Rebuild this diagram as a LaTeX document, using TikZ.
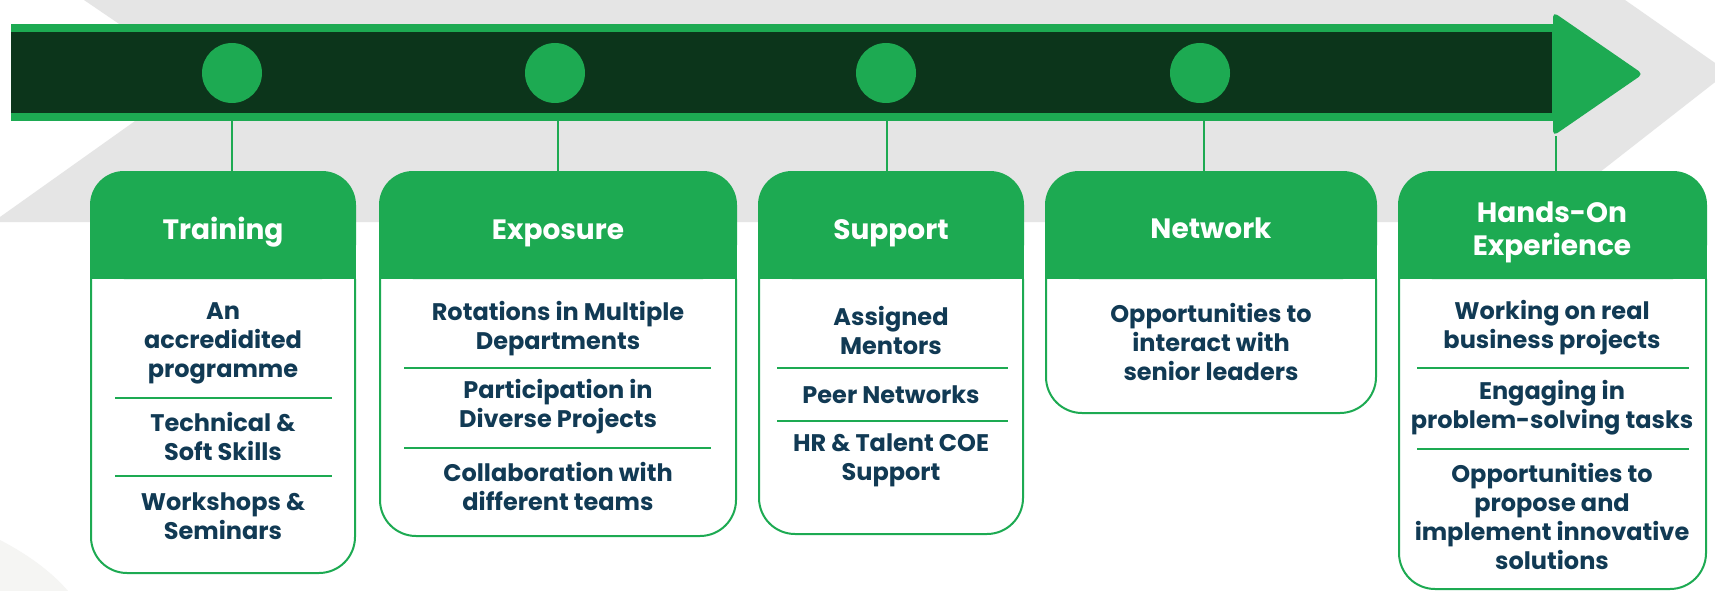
\documentclass[tikz,border=0pt]{standalone}
\usepackage{fontspec}
\setmainfont{Poppins}
\definecolor{gr}{RGB}{29,170,82}
\definecolor{dk}{RGB}{12,53,27}
\definecolor{nv}{RGB}{17,58,84}
\definecolor{lg}{RGB}{229,229,229}
\definecolor{fg}{RGB}{245,245,243}
\begin{document}
\begin{tikzpicture}[x=1pt,y=-1pt,
  item/.style={font=\fontsize{24}{29}\selectfont\bfseries, text=nv, align=center, inner sep=0pt},
  head/.style={font=\fontsize{28}{33}\selectfont\bfseries, text=white, align=center, inner sep=0pt},
  dot/.style={circle, fill=gr, minimum size=60pt, inner sep=0pt},
  conn/.style={gr, line width=2pt},
  rule/.style={gr, line width=2.5pt},
  frame/.style={gr, line width=2pt, rounded corners=36pt}]
\useasboundingbox (0,0) rectangle (1715,591);
\fill[white] (0,0) rectangle (1715,591);
% grey chevron
\fill[lg] (84,0) -- (1625,0) -- (1728,72) -- (1536,222) -- (-7,222) -- (197,77) -- cycle;
\fill[fg] (0,540) .. controls (25,553) and (50,570) .. (68,591) -- (0,591) -- cycle;
% connector anchors
\coordinate (b1) at (232,121); \coordinate (t1) at (232,171);
\coordinate (b2) at (558,121); \coordinate (t2) at (558,171);
\coordinate (b3) at (887,121); \coordinate (t3) at (887,171);
\coordinate (b4) at (1204,121); \coordinate (t4) at (1204,171);
\coordinate (b5) at (1556,136); \coordinate (t5) at (1556,171);
\draw[conn] (b1) -- (t1); \draw[conn] (b2) -- (t2); \draw[conn] (b3) -- (t3);
\draw[conn] (b4) -- (t4); \draw[conn] (b5) -- (t5);
% arrow band
\fill[gr] (11,24) rectangle (1556,121);
\fill[dk] (11,32) rectangle (1552,113);
\fill[gr, rounded corners=5pt] (1553,12) -- (1643,74) -- (1553,136) -- cycle;
\node[dot] (c1) at (232,73) {};
\node[dot] (c2) at (555,73) {};
\node[dot] (c3) at (886,73) {};
\node[dot] (c4) at (1200,73) {};
% boxes
\foreach \xa/\xb/\yb in {90/356/573, 379/737/536, 758/1024/534, 1045/1377/413, 1398/1707/589}{
  \fill[white] (\xa,279) -- (\xa,\yb-36) arc[start angle=180,end angle=270,radius=36pt] -- (\xb-36,\yb) arc[start angle=270,end angle=360,radius=36pt] -- (\xb,279) -- cycle;
  \draw[frame] (\xa+1,279) -- (\xa+1,\yb) -- (\xb-1,\yb) -- (\xb-1,279);
  \fill[gr, rounded corners=34pt] (\xa,171) rectangle (\xb,279);
  \fill[gr] (\xa,230) rectangle (\xb,279);
}
% headers
\node[head, anchor=base] (h1) at (223,239) {Training};
\node[head, anchor=base] (h2) at (558,239) {Exposure};
\node[head, anchor=base] (h3) at (891,239) {Support};
\node[head, anchor=base] (h4) at (1211,238) {Network};
\node[head] (h5) at (1552,232) {Hands-On\\Experience};
% training
\node[item] (a1) at (223,343) {An\\accredidited\\programme};
\draw[rule] (115,398) -- (332,398);
\node[item] (a2) at (223,436) {Technical \&\\Soft Skills};
\draw[rule] (115,476) -- (332,476);
\node[item] (a3) at (223,516.5) {Workshops \&\\Seminars};
% exposure
\node[item] (e1) at (558,328.5) {Rotations in Multiple\\Departments};
\draw[rule] (404,368) -- (711,368);
\node[item] (e2) at (558,407) {Participation in\\Diverse Projects};
\draw[rule] (404,448) -- (711,448);
\node[item] (e3) at (558,486.5) {Collaboration with\\different teams};
% support
\node[item] (s1) at (891,330) {Assigned\\Mentors};
\draw[rule] (777,368) -- (1008,368);
\node[item] (s2) at (891,395) {Peer Networks};
\draw[rule] (777,421) -- (1008,421);
\node[item] (s3) at (891,460.5) {HR \& Talent COE\\Support};
% network
\node[item] (n1) at (1211,341.5) {Opportunities to\\interact with\\senior leaders};
% hands-on
\node[item] (o1) at (1552,328) {Working on real\\business projects};
\draw[rule] (1417,368) -- (1689,368);
\node[item] (o2) at (1552,407.5) {Engaging in\\problem-solving tasks};
\draw[rule] (1417,449) -- (1689,449);
\node[item] (o3) at (1552,516) {Opportunities to\\propose and\\implement innovative\\solutions};
\end{tikzpicture}
\end{document}
